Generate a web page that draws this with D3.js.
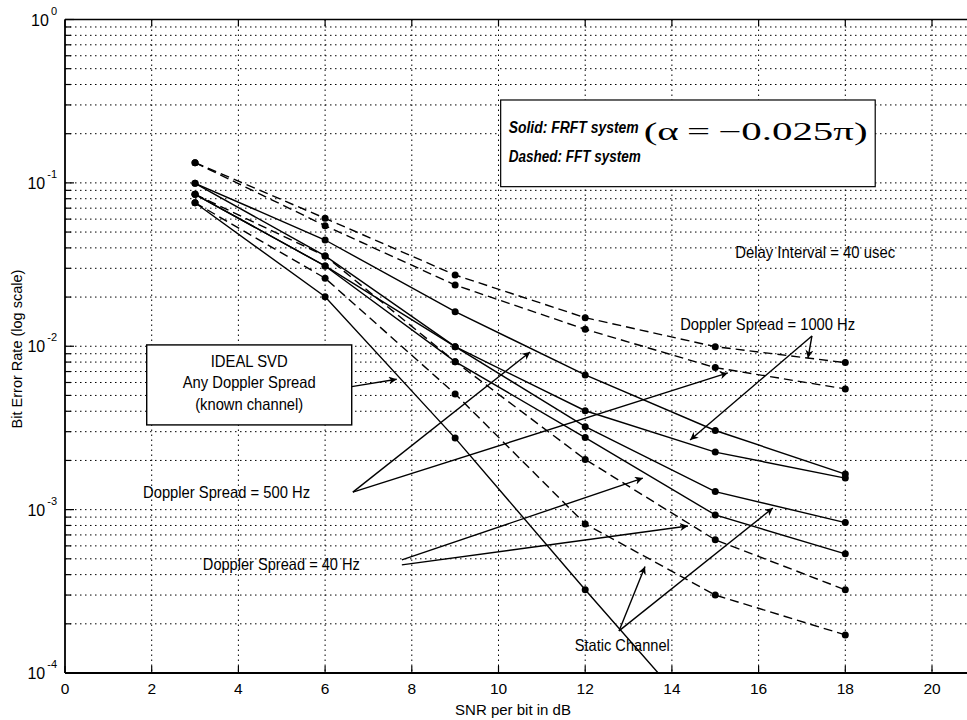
<!DOCTYPE html>
<html>
<head>
<meta charset="utf-8">
<script src="https://cdn.jsdelivr.net/npm/d3@7"></script>
<style>
  body { margin: 0; background: #fff; }
  svg { display: block; }
</style>
</head>
<body>
<svg id="chart" width="967" height="720"></svg>
<script>
// ---- data: BER vs SNR per bit (dB) ----
const snr = [3, 6, 9, 12, 15, 18];

// FFT system (dashed)
const fft1000   = [0.133, 0.0607, 0.0273, 0.01496, 0.00994, 0.00794];
const fft500    = [0.133, 0.0547, 0.0237, 0.0127, 0.0074, 0.00548];
const fft40     = [0.0851, 0.0357, 0.00805, 0.00203, 0.000653, 0.000323];
const fftStatic = [0.0756, 0.0261, 0.00511, 0.000818, 0.0003, 0.000171];

// FRFT system (solid)
const frft500    = [0.0994, 0.0447, 0.01628, 0.00667, 0.00305, 0.00165];
const frft1000   = [0.0994, 0.0357, 0.00994, 0.00403, 0.00225, 0.00156];
const frft40     = [0.0851, 0.0310, 0.00805, 0.00276, 0.000928, 0.000536];
const frftStatic = [0.0851, 0.0310, 0.00994, 0.00322, 0.00129, 0.000833];

// Ideal SVD (solid), runs off the bottom of the axis after 12 dB
const idealSnr = [3, 6, 9, 12, 15];
const idealSvd = [0.0756, 0.0201, 0.00274, 0.000323, 0.00004];

// axis ticks
const xTickValues = [0, 2, 4, 6, 8, 10, 12, 14, 16, 18, 20];
const yDecades = [1e-4, 1e-3, 1e-2, 1e-1, 1];
const yExponents = ["-4", "-3", "-2", "-1", "0"];

// annotations, positioned in data units (dB, BER); w = set width of the condensed label
const textNotes = [
  { text: "Delay Interval = 40 usec", x: 15.46, y: 0.0347, w: 160 },
  { text: "Doppler Spread = 1000 Hz", x: 14.19, y: 0.0125, w: 175 },
  { text: "Doppler Spread = 500 Hz", x: 1.80, y: 0.00118, w: 167 },
  { text: "Doppler Spread = 40 Hz", x: 3.18, y: 0.000428, w: 157 },
  { text: "Static Channel", x: 11.76, y: 0.000136, w: 95 }
];
const arrowNotes = [
  // 1000 Hz
  [17.23, 0.01156, 17.14, 0.00847],
  [17.23, 0.01156, 14.42, 0.00267],
  // 500 Hz
  [6.64, 0.00128, 10.73, 0.00923],
  [6.64, 0.00128, 15.29, 0.00687],
  // 40 Hz
  [7.77, 0.000492, 13.33, 0.00156],
  [7.77, 0.000459, 14.37, 0.000794],
  // static
  [12.78, 0.000181, 13.38, 0.000448],
  [12.78, 0.000181, 16.33, 0.001024],
  // ideal svd box
  [6.614, 0.00566, 7.652, 0.00628]
];
const idealBox = { x0: 1.885, x1: 6.614, y0: 0.01019, y1: 0.0033 };
const idealLines = ["IDEAL SVD", "Any Doppler Spread", "(known channel)"];
const idealWidths = [77, 133, 108];
const legendBox = { x0: 10.05, x1: 18.69, y0: 0.3216, y1: 0.0948 };

// ---- layout ----
const W = 967, H = 720;
const plotLeft = 65, plotTop = 19.5, plotBottom = 673;
const unit = 43.35;               // px per dB
const SANS = '"Liberation Sans Narrow","Arial Narrow","Liberation Sans",Arial,sans-serif';
const SERIF = '"Liberation Serif","Times New Roman",Times,serif';

const svg = d3.select("#chart");
const x = d3.scaleLinear().domain([0, 22]).range([plotLeft, plotLeft + 22 * unit]);
const y = d3.scaleLog().domain([1e-4, 1]).range([plotBottom, plotTop]);

const defs = svg.append("defs");
defs.append("clipPath").attr("id", "plotClip")
  .append("rect").attr("x", plotLeft).attr("y", plotTop)
  .attr("width", W - plotLeft).attr("height", plotBottom - plotTop);
defs.append("marker").attr("id", "arrowHead")
  .attr("viewBox", "0 0 10 10").attr("refX", 10).attr("refY", 5)
  .attr("markerWidth", 11).attr("markerHeight", 8)
  .attr("markerUnits", "userSpaceOnUse").attr("orient", "auto")
  .append("path").attr("d", "M0,0 L10,5 L0,10 L3,5 Z").attr("fill", "#000");

// ---- grid ----
const grid = svg.append("g").attr("stroke", "#000").attr("stroke-width", 1)
  .attr("stroke-dasharray", "1.5,3.5");
const minorValues = [];
for (let k = -4; k < 0; k++) for (let m = 1; m <= 9; m++) minorValues.push(m * Math.pow(10, k));
grid.selectAll("line.h").data(minorValues.filter(v => v > 1e-4)).join("line")
  .attr("class", "h")
  .attr("x1", plotLeft).attr("x2", W).attr("y1", d => y(d)).attr("y2", d => y(d));
grid.selectAll("line.v").data(xTickValues.filter(v => v > 0)).join("line")
  .attr("class", "v")
  .attr("x1", d => x(d)).attr("x2", d => x(d)).attr("y1", plotTop).attr("y2", plotBottom);

// ---- axes frame and ticks ----
const frame = svg.append("g").attr("stroke", "#000");
frame.append("line").attr("x1", plotLeft).attr("x2", plotLeft).attr("y1", plotTop).attr("y2", plotBottom).attr("stroke-width", 1.8);
frame.append("line").attr("x1", plotLeft).attr("x2", W).attr("y1", plotTop).attr("y2", plotTop).attr("stroke-width", 1.5);
frame.append("line").attr("x1", plotLeft).attr("x2", W).attr("y1", plotBottom).attr("y2", plotBottom).attr("stroke-width", 1.8);
frame.selectAll("line.yt").data(minorValues.concat([1])).join("line")
  .attr("class", "yt").attr("stroke-width", 1.2)
  .attr("x1", plotLeft).attr("x2", d => plotLeft + (yDecades.includes(d) ? 9 : 6))
  .attr("y1", d => y(d)).attr("y2", d => y(d));
frame.selectAll("line.xb").data(xTickValues).join("line")
  .attr("class", "xb").attr("stroke-width", 1.2)
  .attr("x1", d => x(d)).attr("x2", d => x(d)).attr("y1", plotBottom).attr("y2", plotBottom - 7);
frame.selectAll("line.xt").data(xTickValues).join("line")
  .attr("class", "xt").attr("stroke-width", 1.2)
  .attr("x1", d => x(d)).attr("x2", d => x(d)).attr("y1", plotTop).attr("y2", plotTop + 7);

// tick labels
svg.append("g").selectAll("text").data(xTickValues).join("text")
  .attr("x", d => x(d)).attr("y", plotBottom + 21).attr("text-anchor", "middle")
  .attr("font-family", SANS).attr("font-size", 15.5).text(d => d);

const yLab = svg.append("g").selectAll("text").data(yDecades).join("text")
  .attr("x", 57).attr("y", d => y(d) + 6).attr("text-anchor", "end")
  .attr("font-family", SANS).attr("font-size", 16);
yLab.append("tspan").text("10");
yLab.append("tspan").attr("dx", 2).attr("dy", -11).attr("font-size", 11)
  .text((d, i) => yExponents[i]);

svg.append("text").attr("x", 513).attr("y", 715).attr("text-anchor", "middle")
  .attr("font-family", SANS).attr("font-size", 15).text("SNR per bit in dB");
svg.append("text").attr("transform", "translate(22,349) rotate(-90)")
  .attr("text-anchor", "middle").attr("font-family", SANS).attr("font-size", 14.5)
  .text("Bit Error Rate (log scale)");

// ---- curves ----
const series = [
  { v: fft1000, dashed: true }, { v: fft500, dashed: true },
  { v: fft40, dashed: true }, { v: fftStatic, dashed: true },
  { v: frft500, dashed: false }, { v: frft1000, dashed: false },
  { v: frft40, dashed: false }, { v: frftStatic, dashed: false }
].map(s => ({ dashed: s.dashed, pts: snr.map((d, i) => [d, s.v[i]]) }));
series.push({ dashed: false, pts: idealSnr.map((d, i) => [d, idealSvd[i]]) });

const line = d3.line().x(d => x(d[0])).y(d => y(d[1]));
const plot = svg.append("g").attr("clip-path", "url(#plotClip)");
plot.selectAll("path.curve").data(series).join("path")
  .attr("class", "curve").attr("d", d => line(d.pts))
  .attr("fill", "none").attr("stroke", "#000").attr("stroke-width", 1.4)
  .attr("stroke-dasharray", d => d.dashed ? "9,5" : null);
plot.selectAll("circle").data(series.flatMap(s => s.pts)).join("circle")
  .attr("cx", d => x(d[0])).attr("cy", d => y(d[1])).attr("r", 3.5).attr("fill", "#000");

// ---- annotations ----
const ann = svg.append("g");
ann.selectAll("line").data(arrowNotes).join("line")
  .attr("x1", d => x(d[0])).attr("y1", d => y(d[1]))
  .attr("x2", d => x(d[2])).attr("y2", d => y(d[3]))
  .attr("stroke", "#000").attr("stroke-width", 1.4)
  .attr("marker-end", "url(#arrowHead)");
ann.selectAll("text.note").data(textNotes).join("text").attr("class", "note")
  .attr("x", d => x(d.x)).attr("y", d => y(d.y))
  .attr("font-family", SANS).attr("font-size", 16.5)
  .attr("textLength", d => d.w).attr("lengthAdjust", "spacingAndGlyphs")
  .text(d => d.text);

// ideal SVD box
ann.append("rect")
  .attr("x", x(idealBox.x0)).attr("y", y(idealBox.y0))
  .attr("width", x(idealBox.x1) - x(idealBox.x0)).attr("height", y(idealBox.y1) - y(idealBox.y0))
  .attr("fill", "#fff").attr("stroke", "#000").attr("stroke-width", 1.4);
const boxCx = (x(idealBox.x0) + x(idealBox.x1)) / 2;
ann.selectAll("text.ib").data(idealLines).join("text").attr("class", "ib")
  .attr("x", boxCx).attr("y", (d, i) => y(idealBox.y0) + 22 + i * 21.5)
  .attr("text-anchor", "middle").attr("font-family", SANS).attr("font-size", 16.5)
  .attr("textLength", (d, i) => idealWidths[i]).attr("lengthAdjust", "spacingAndGlyphs")
  .text(d => d);

// legend box
const lx = x(legendBox.x0), ly = y(legendBox.y0);
ann.append("rect").attr("x", lx).attr("y", ly)
  .attr("width", x(legendBox.x1) - lx).attr("height", y(legendBox.y1) - ly)
  .attr("fill", "#fff").attr("stroke", "#000").attr("stroke-width", 1.2);
ann.append("text").attr("x", lx + 8).attr("y", ly + 33)
  .attr("font-family", SANS).attr("font-weight", "bold").attr("font-style", "italic")
  .attr("font-size", 16).attr("textLength", 130).attr("lengthAdjust", "spacingAndGlyphs")
  .text("Solid: FRFT system");
ann.append("text").attr("x", lx + 143).attr("y", ly + 40)
  .attr("font-family", SERIF).attr("font-size", 25)
  .attr("textLength", 224).attr("lengthAdjust", "spacingAndGlyphs")
  .text("(\u03B1\u2009=\u2009\u22120.025\u03C0)");
ann.append("text").attr("x", lx + 8).attr("y", ly + 62)
  .attr("font-family", SANS).attr("font-weight", "bold").attr("font-style", "italic")
  .attr("font-size", 16).attr("textLength", 132).attr("lengthAdjust", "spacingAndGlyphs")
  .text("Dashed: FFT system");
</script>
</body>
</html>
